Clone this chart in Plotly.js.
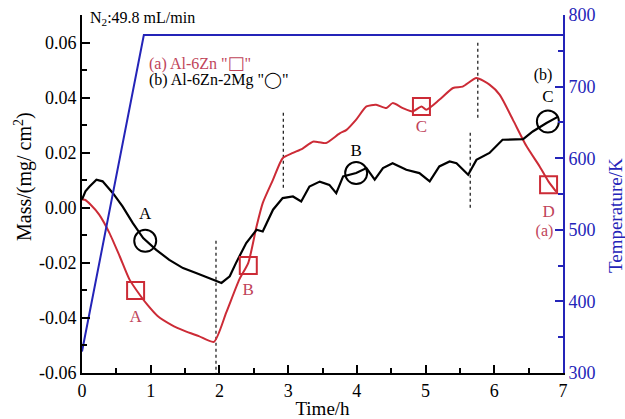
<!DOCTYPE html>
<html><head><meta charset="utf-8">
<script src="https://cdn.plot.ly/plotly-3.0.1.min.js"></script>
<style>body{margin:0;background:#fff}#c{width:625px;height:419px}</style>
</head><body><div id="c"></div>
<script>
// Series (a) Al-6Zn
const timeA = [0.0,0.04,0.13,0.25,0.40,0.55,0.69,0.84,0.95,1.10,1.30,1.50,1.70,1.92,2.10,2.29,2.42,2.54,2.63,2.78,2.92,3.07,3.21,3.36,3.45,3.55,3.75,3.85,3.99,4.14,4.28,4.43,4.52,4.67,4.81,4.94,5.01,5.20,5.40,5.54,5.74,5.93,6.08,6.27,6.47,6.66,6.79,6.90];
const massA = [0.003,0.0029,0.001,-0.0025,-0.0092,-0.0177,-0.026,-0.0316,-0.0352,-0.0393,-0.0425,-0.0448,-0.0466,-0.0487,-0.038,-0.026,-0.020,-0.0068,0.0017,0.0102,0.018,0.0199,0.0215,0.024,0.0238,0.0235,0.027,0.0283,0.032,0.0368,0.0374,0.0362,0.038,0.0362,0.035,0.0368,0.0356,0.0392,0.0435,0.044,0.0471,0.0447,0.041,0.032,0.0223,0.015,0.0095,0.0059];
// Series (b) Al-6Zn-2Mg
const timeB = [0.0,0.05,0.11,0.21,0.30,0.45,0.59,0.74,0.89,1.08,1.27,1.47,1.66,1.86,2.03,2.15,2.24,2.39,2.54,2.63,2.78,2.92,3.07,3.19,3.31,3.46,3.60,3.70,3.80,3.99,4.14,4.26,4.38,4.52,4.72,4.91,5.06,5.20,5.35,5.45,5.62,5.74,5.93,6.12,6.27,6.42,6.56,6.76,6.93];
const massB = [0.003,0.006,0.0077,0.0102,0.0096,0.0053,0.0005,-0.0056,-0.011,-0.0153,-0.0189,-0.0219,-0.0237,-0.0255,-0.0273,-0.0249,-0.0201,-0.0128,-0.008,-0.0086,-0.0007,0.0035,0.0041,0.0023,0.0077,0.0095,0.0083,0.0053,0.0114,0.0126,0.0144,0.0102,0.0144,0.0162,0.0138,0.0126,0.0096,0.015,0.0168,0.0162,0.012,0.0174,0.0199,0.0247,0.0249,0.0249,0.0277,0.0308,0.0331];
// Temperature
const timeT = [0.0,0.9,7.0];
const tempT = [330,772,772];
// Markers
const sqX = [0.78,2.42,4.94,6.79];
const sqY = [-0.030,-0.021,0.0368,0.0084];
const sqLabels = ['A','B','C','D'];
const sqLabY = [-0.040,-0.030,0.029,-0.0018];
const ciX = [0.92,3.99,6.78];
const ciY = [-0.012,0.0126,0.0313];
const ciLabels = ['A','B','C'];
const ciLabY = [-0.0025,0.0205,0.040];
// Dashed lines
const dashX = [1.95,2.93,5.76,5.65];
const dashY0 = [-0.012,0.0073,0.0327,0.0];
const dashY1 = [-0.06,0.0345,0.0599,0.0272];

const RED='#cc2b36', REDT='#c0445a', BLUE='#2424b8', FONT='Liberation Serif';
const traces = [];
traces.push({x:timeT,y:tempT,yaxis:'y2',mode:'lines',line:{color:BLUE,width:2},hoverinfo:'skip'});
dashX.forEach((dx,i)=>traces.push({x:[dx,dx],y:[dashY0[i],dashY1[i]],mode:'lines',line:{color:'#222',width:1.3,dash:'3px,3px'}}));
traces.push({x:timeA,y:massA,mode:'lines',line:{color:RED,width:2,shape:'spline',smoothing:0.6}});
traces.push({x:timeB,y:massB,mode:'lines',line:{color:'#000',width:2.2}});
traces.push({x:sqX,y:sqY,mode:'markers',marker:{symbol:'square-open',size:17,color:RED,line:{width:2,color:RED}}});
traces.push({x:ciX,y:ciY,mode:'markers',marker:{symbol:'circle-open',size:22,color:'#000',line:{width:2,color:'#000'}}});
traces.push({x:sqX,y:sqLabY,mode:'text',text:sqLabels,textfont:{family:FONT,size:17,color:REDT}});
traces.push({x:ciX,y:ciLabY,mode:'text',text:ciLabels,textfont:{family:FONT,size:17,color:'#000'}});
traces.push({x:[6.73],y:[-0.0087],mode:'text',text:['(a)'],textfont:{family:FONT,size:16,color:REDT}});
traces.push({x:[6.71],y:[0.048],mode:'text',text:['(b)'],textfont:{family:FONT,size:16,color:'#000'}});

const ax = {showline:true,linecolor:'#000',linewidth:2,ticks:'inside',ticklen:8,tickwidth:2,tickcolor:'#000',showgrid:false,zeroline:false,
  tickfont:{family:FONT,size:18,color:'#000'}};
const layout = {
  width:625,height:419,margin:{l:82,r:62,t:15,b:46},paper_bgcolor:'#fff',plot_bgcolor:'#fff',showlegend:false,
  xaxis:Object.assign({},ax,{range:[0,7],dtick:1,tick0:0,minor:{dtick:0.5,ticks:'inside',ticklen:5,tickwidth:2,tickcolor:'#000'},
    title:{text:'Time/h',font:{family:FONT,size:19,color:'#000'},standoff:2}}),
  yaxis:Object.assign({},ax,{range:[-0.06,0.07],tickvals:[-0.06,-0.04,-0.02,0,0.02,0.04,0.06],ticktext:['-0.06','-0.04','-0.02','0.00','0.02','0.04','0.06'],
    minor:{tickvals:[-0.05,-0.03,-0.01,0.01,0.03,0.05,0.07],ticks:'inside',ticklen:5,tickwidth:2,tickcolor:'#000'}}),
  yaxis2:Object.assign({},ax,{overlaying:'y',side:'right',range:[300,800],dtick:100,linecolor:BLUE,tickcolor:BLUE,
    tickfont:{family:FONT,size:18,color:BLUE},
    minor:{dtick:50,ticks:'inside',ticklen:5,tickwidth:2,tickcolor:BLUE}}),
  annotations:[
    {xref:'paper',yref:'paper',x:0.012,y:0.989,xanchor:'left',yanchor:'middle',showarrow:false,text:'N<sub>2</sub>:49.8 mL/min',font:{family:FONT,size:16,color:'#000'}},
    {xref:'x',yref:'y',x:0.94,y:0.0528,xanchor:'left',yanchor:'middle',showarrow:false,text:'(a) Al-6Zn "<span style="font-family:DejaVu Sans;font-size:18px">□</span>"',font:{family:FONT,size:16,color:REDT}},
    {xref:'x',yref:'y',x:0.94,y:0.0466,xanchor:'left',yanchor:'middle',showarrow:false,text:'(b) Al-6Zn-2Mg "<span style="font-family:DejaVu Sans;font-size:16px">◯</span>"',font:{family:FONT,size:16,color:'#000'}},
    {xref:'paper',yref:'paper',x:-0.123,y:0.55,xanchor:'center',yanchor:'middle',textangle:-90,showarrow:false,text:'Mass/(mg/ cm<sup>2</sup>)',font:{family:FONT,size:20,color:'#000'}},
    {xref:'paper',yref:'paper',x:1.108,y:0.441,xanchor:'center',yanchor:'middle',textangle:-90,showarrow:false,text:'Temperature/K',font:{family:FONT,size:19,color:BLUE}}
  ]
};
Plotly.newPlot('c',traces,layout,{displayModeBar:false,staticPlot:true});
</script></body></html>
